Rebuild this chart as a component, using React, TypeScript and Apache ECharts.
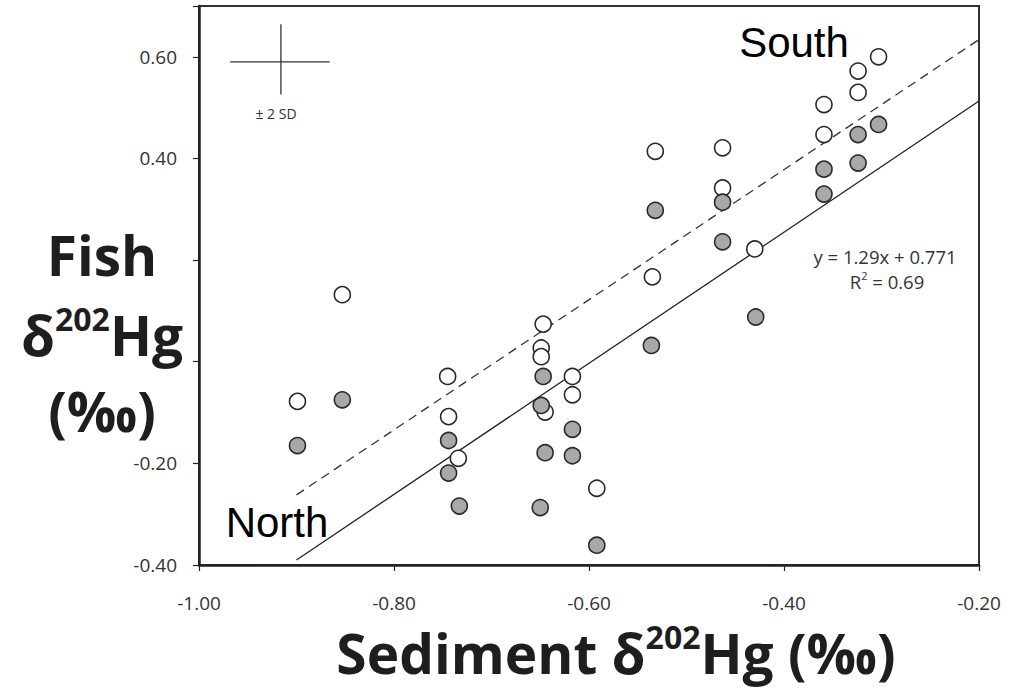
import React, { useEffect, useRef } from "react";
import * as echarts from "echarts";

// Fish vs sediment δ202Hg (‰)
const openPoints: number[][] = [
  [-0.853, 0.132],
  [-0.899, -0.078],
  [-0.745, -0.029],
  [-0.744, -0.108],
  [-0.734, -0.19],
  [-0.647, 0.074],
  [-0.649, 0.027],
  [-0.649, 0.01],
  [-0.645, -0.099],
  [-0.617, -0.029],
  [-0.617, -0.065],
  [-0.592, -0.249],
  [-0.303, 0.6],
  [-0.324, 0.572],
  [-0.324, 0.53],
  [-0.359, 0.506],
  [-0.359, 0.447],
  [-0.532, 0.414],
  [-0.463, 0.421],
  [-0.463, 0.342],
  [-0.43, 0.222],
  [-0.535, 0.167],
];

const filledPoints: number[][] = [
  [-0.853, -0.075],
  [-0.899, -0.165],
  [-0.744, -0.155],
  [-0.744, -0.219],
  [-0.733, -0.284],
  [-0.647, -0.029],
  [-0.649, -0.086],
  [-0.645, -0.179],
  [-0.65, -0.287],
  [-0.617, -0.133],
  [-0.617, -0.185],
  [-0.592, -0.361],
  [-0.429, 0.088],
  [-0.536, 0.032],
  [-0.532, 0.298],
  [-0.463, 0.314],
  [-0.359, 0.379],
  [-0.359, 0.33],
  [-0.324, 0.447],
  [-0.324, 0.391],
  [-0.303, 0.467],
  [-0.463, 0.236],
];

// regression line (solid) and offset line (dashed), endpoints
const solidLine: number[][] = [
  [-0.9, -0.39],
  [-0.2, 0.513],
];
const dashedLine: number[][] = [
  [-0.9, -0.262],
  [-0.2, 0.634],
];

// ±2 SD cross
const sdHorizontal: number[][] = [
  [-0.968, 0.59],
  [-0.866, 0.59],
];
const sdVertical: number[][] = [
  [-0.916, 0.664],
  [-0.916, 0.526],
];

const yHiddenLabels = ["0.20", "0.00", "0.70"];

export default function App() {
  const ref = useRef<HTMLDivElement>(null);

  useEffect(() => {
    document.body.style.margin = "0";
    if (!ref.current) return;
    const chart = echarts.init(ref.current, null, { renderer: "svg" });

    const titleFont = "'Open Sans', sans-serif";
    const boldMain = {
      fontFamily: titleFont,
      fontWeight: "bold",
      fontSize: 55,
      lineHeight: 64,
      fill: "#1e1e1e",
    };
    const boldSup = {
      fontFamily: titleFont,
      fontWeight: "bold",
      fontSize: 32,
      lineHeight: 44,
      verticalAlign: "top",
      fill: "#1e1e1e",
    };

    chart.setOption({
      animation: false,
      backgroundColor: "#ffffff",
      grid: {
        left: 199,
        right: 38,
        top: 6,
        bottom: 123,
        show: true,
        borderColor: "#333",
        borderWidth: 2,
        backgroundColor: "transparent",
      },
      xAxis: {
        type: "value",
        min: -1,
        max: -0.2,
        interval: 0.2,
        splitLine: { show: false },
        axisLine: { onZero: false, lineStyle: { color: "#222", width: 2.5 } },
        axisTick: { show: true, length: 6, lineStyle: { color: "#222", width: 1.2 } },
        axisLabel: {
          margin: 28,
          fontFamily: "'Open Sans', sans-serif",
          fontSize: 19,
          color: "#333",
          formatter: (v: number) => v.toFixed(2),
        },
      },
      yAxis: {
        type: "value",
        min: -0.4,
        max: 0.7,
        interval: 0.2,
        splitLine: { show: false },
        axisLine: { onZero: false, lineStyle: { color: "#222", width: 2.5 } },
        axisTick: { show: true, length: 6, lineStyle: { color: "#222", width: 1.2 } },
        axisLabel: {
          margin: 22,
          fontFamily: "'Open Sans', sans-serif",
          fontSize: 19,
          color: "#333",
          formatter: (v: number) => {
            const s = v.toFixed(2);
            return yHiddenLabels.indexOf(s) >= 0 ? "" : s;
          },
        },
      },
      series: [
        {
          type: "line",
          data: dashedLine,
          showSymbol: false,
          symbol: "none",
          lineStyle: { color: "#333", width: 1.3, type: [9, 6] },
          z: 1,
        },
        {
          type: "line",
          data: solidLine,
          showSymbol: false,
          symbol: "none",
          lineStyle: { color: "#222", width: 1.3 },
          z: 1,
        },
        {
          type: "line",
          data: sdHorizontal,
          showSymbol: false,
          symbol: "none",
          lineStyle: { color: "#333", width: 1.3 },
          z: 1,
        },
        {
          type: "line",
          data: sdVertical,
          showSymbol: false,
          symbol: "none",
          lineStyle: { color: "#333", width: 1.3 },
          z: 1,
        },
        {
          type: "scatter",
          data: openPoints,
          symbol: "circle",
          symbolSize: 16,
          itemStyle: { color: "#ffffff", borderColor: "#2a2a2a", borderWidth: 1.6, opacity: 1 },
          z: 3,
        },
        {
          type: "scatter",
          data: filledPoints,
          symbol: "circle",
          symbolSize: 16,
          itemStyle: { color: "#a8a8a8", borderColor: "#2a2a2a", borderWidth: 1.6, opacity: 1 },
          z: 4,
        },
      ],
      graphic: [
        {
          type: "text",
          x: 276,
          y: 113,
          style: {
            text: "± 2 SD",
            fontFamily: "'Open Sans', sans-serif",
            fontSize: 14,
            fill: "#333",
            align: "center",
            verticalAlign: "middle",
          },
        },
        {
          type: "text",
          x: 794,
          y: 42,
          style: {
            text: "South",
            fontFamily: "'Liberation Sans', Arial, sans-serif",
            fontSize: 42,
            fill: "#000",
            align: "center",
            verticalAlign: "middle",
          },
        },
        {
          type: "text",
          x: 277,
          y: 522,
          style: {
            text: "North",
            fontFamily: "'Liberation Sans', Arial, sans-serif",
            fontSize: 42,
            fill: "#000",
            align: "center",
            verticalAlign: "middle",
          },
        },
        {
          type: "text",
          x: 885,
          y: 256,
          style: {
            text: "y = 1.29x + 0.771",
            fontFamily: "'Open Sans', sans-serif",
            fontSize: 18.5,
            fill: "#333",
            align: "center",
            verticalAlign: "middle",
          },
        },
        {
          type: "text",
          x: 887,
          y: 281,
          style: {
            text: "{a|R}{s|2}{a| = 0.69}",
            align: "center",
            verticalAlign: "middle",
            rich: {
              a: { fontFamily: "'Open Sans', sans-serif", fontSize: 18.5, lineHeight: 22, fill: "#333" },
              s: {
                fontFamily: "'Open Sans', sans-serif",
                fontSize: 11,
                lineHeight: 14,
                verticalAlign: "top",
                fill: "#333",
              },
            },
          },
        },
        {
          type: "text",
          x: 616,
          y: 652,
          style: {
            text: "{a|Sediment δ}{s|202}{a|Hg (‰)}",
            align: "center",
            verticalAlign: "middle",
            rich: { a: boldMain, s: boldSup },
          },
        },
        {
          type: "text",
          x: 102,
          y: 254,
          style: {
            text: "{a|Fish}",
            align: "center",
            verticalAlign: "middle",
            rich: { a: boldMain },
          },
        },
        {
          type: "text",
          x: 102,
          y: 334,
          style: {
            text: "{a|δ}{s|202}{a|Hg}",
            align: "center",
            verticalAlign: "middle",
            rich: { a: boldMain, s: boldSup },
          },
        },
        {
          type: "text",
          x: 102,
          y: 410,
          style: {
            text: "{a|(‰)}",
            align: "center",
            verticalAlign: "middle",
            rich: { a: boldMain },
          },
        },
      ],
    });

    return () => chart.dispose();
  }, []);

  return <div ref={ref} style={{ width: 1017, height: 688 }} />;
}
